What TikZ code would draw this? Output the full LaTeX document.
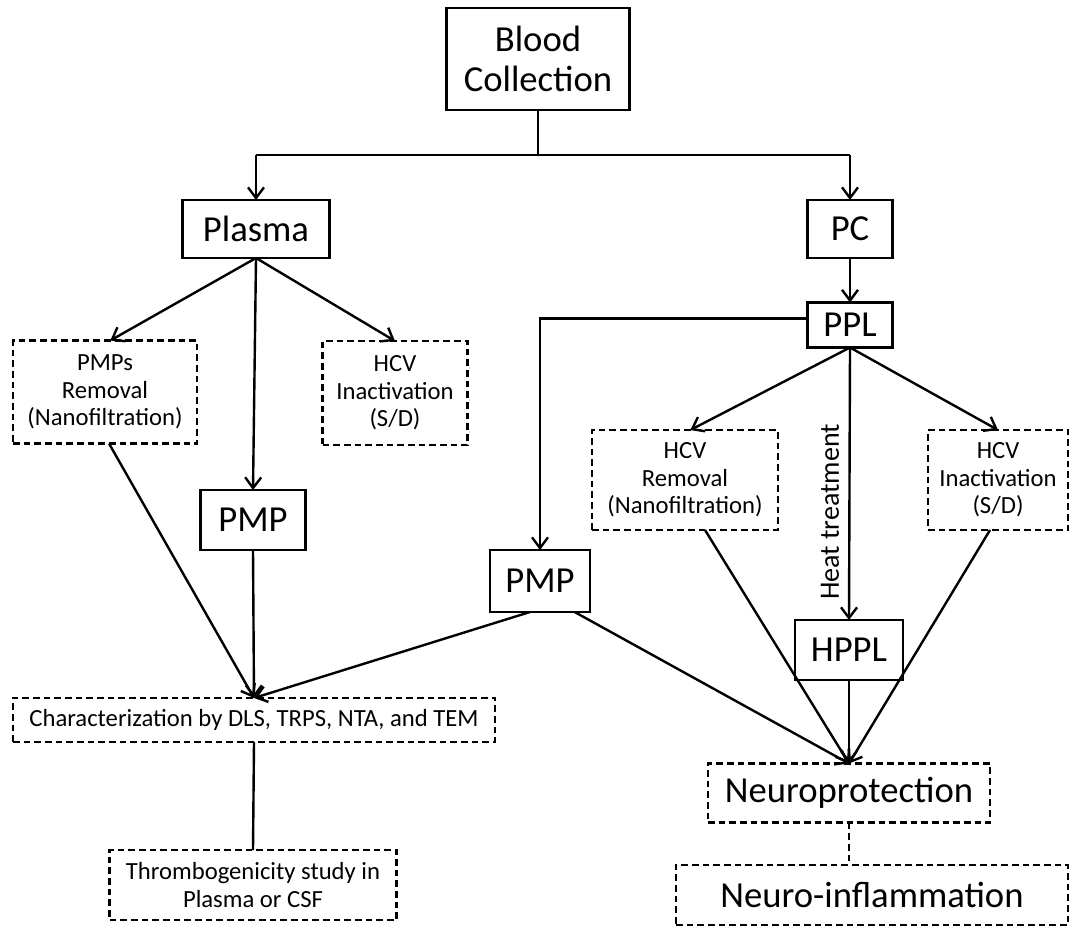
\documentclass[tikz,border=0pt]{standalone}
\usepackage{fontspec}
\setmainfont{Carlito}
\usetikzlibrary{arrows.meta,calc}
\begin{document}
\begin{tikzpicture}[x=0.75pt,y=-0.75pt,
  every node/.style={inner sep=0pt,outer sep=0pt,align=center,text=black},
  sz/.style 2 args={minimum width=#1*0.75pt,minimum height=#2*0.75pt},
  solidbox/.style={draw,line width=1.8pt},
  dashbox/.style={draw,line width=1.8pt,dash pattern=on 5pt off 3pt},
  big/.style={font=\fontsize{27.5}{30}\selectfont},
  small/.style={font=\fontsize{18.5}{20.5}\selectfont},
  conn/.style={line width=1.8pt},
  arr/.style={conn,-{Straight Barb[length=8pt,width=12pt,line width=1.8pt]}}
]
\useasboundingbox (0,0) rectangle (1071,926);

\node[solidbox,big,sz={183}{102}] (bc) at (538,59) {Blood\\Collection};
\node[solidbox,big,sz={147}{58}] (plasma) at (256,229) {Plasma};
\node[solidbox,big,sz={85}{58}] (pc) at (850,229) {PC};
\node[solidbox,big,sz={85}{45}] (ppl) at (850,325) {PPL};
\node[dashbox,small,sz={184}{103}] (pmps) at (105,392) {PMPs\\Removal\\(Nanofiltration)};
\node[dashbox,small,sz={145}{104}] (hcvL) at (395,393) {HCV\\Inactivation\\(S/D)};
\node[solidbox,big,sz={105}{60}] (pmpL) at (253,520) {PMP};
\node[solidbox,big,sz={100}{62}] (pmpM) at (540,581) {PMP};
\node[dashbox,small,sz={186}{100}] (hcvR) at (685,480) {HCV\\Removal\\(Nanofiltration)};
\node[dashbox,small,sz={140}{100}] (hcvI) at (998,480) {HCV\\Inactivation\\(S/D)};
\node[solidbox,big,sz={108}{60}] (hppl) at (849,650) {HPPL};
\node[dashbox,small,sz={482}{44}] (char) at (254,720) {Characterization by DLS, TRPS, NTA, and TEM};
\node[dashbox,small,sz={287}{70}] (thr) at (253,885) {Thrombogenicity study in\\Plasma or CSF};
\node[dashbox,big,sz={282}{59}] (neuro) at (849,793) {Neuroprotection};
\node[dashbox,big,sz={392}{60}] (infl) at (872,895) {Neuro-inflammation};
\node[rotate=90,font=\fontsize{21}{24}\selectfont] (heat) at (830,512) {Heat treatment};

\coordinate (sl) at (256,155);
\coordinate (sr) at (850,155);
\draw[conn] (bc.south) -- (bc.south |- sl);
\draw[conn] (sl) -- (sr);
\draw[arr] (sl) -- (plasma.north);
\draw[arr] (sr) -- (pc.north);
\draw[arr] (pc.south) -- (ppl.north);

\draw[arr] (plasma.south) -- ([xshift=4pt]pmps.north);
\draw[arr] (plasma.south) -- (pmpL.north);
\draw[arr] (plasma.south) -- (hcvL.north);

\draw[arr] ([xshift=3pt]pmps.south) -- (char.north);
\draw[arr] (pmpL.south) -- (char.north);
\draw[arr] ([xshift=-7.5pt]pmpM.south) -- (char.north);

\draw[arr] ([yshift=5pt]ppl.west) -| (pmpM.north);
\draw[arr] (ppl.south) -- ([xshift=4pt]hcvR.north);
\draw[arr] (ppl.south) -- (hppl.north);
\draw[arr] (ppl.south) -- (hcvI.north);

\draw[arr] ([xshift=15pt]hcvR.south) -- (neuro.north);
\draw[arr] (hppl.south) -- (neuro.north);
\draw[arr] ([xshift=-6pt]hcvI.south) -- (neuro.north);
\draw[arr] ([xshift=26pt]pmpM.south) -- (neuro.north);

\draw[conn] (char.south) -- (thr.north);
\draw[conn,dash pattern=on 5pt off 3pt] (neuro.south) -- (neuro.south |- infl.north);
\end{tikzpicture}
\end{document}
